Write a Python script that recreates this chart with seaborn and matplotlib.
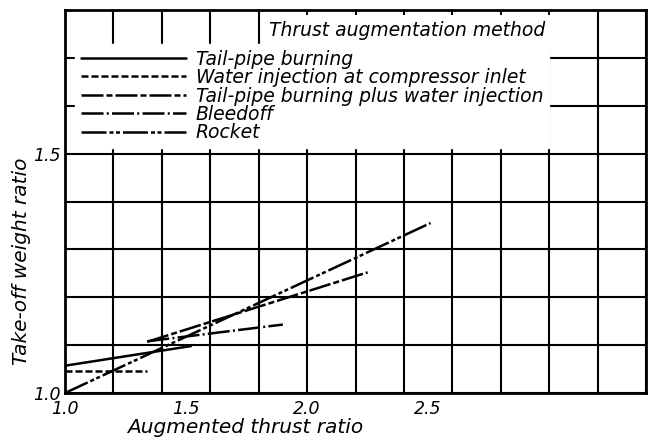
import pandas as pd
import numpy as np
import matplotlib
matplotlib.use("Agg")
import matplotlib.pyplot as plt
import seaborn as sns
from matplotlib.ticker import FixedLocator, MultipleLocator

# ==========================================
# DATA
# ==========================================
methods = ['Tail-pipe burning',
           'Water injection at compressor inlet',
           'Tail-pipe burning plus water injection',
           'Bleedoff',
           'Rocket']

x_tailpipe = [1.0, 1.52]
y_tailpipe = [1.057, 1.098]

x_water = [1.0, 1.34]
y_water = [1.046, 1.046]

x_tp_water = [1.34, 2.25]
y_tp_water = [1.107, 1.252]

x_bleed = [1.34, 1.90]
y_bleed = [1.108, 1.143]

x_rocket = [1.0, 2.51]
y_rocket = [1.0, 1.355]

x_ticks = [1.0, 1.5, 2.0, 2.5]
x_tick_labels = ['1.0', '1.5', '2.0', '2.5']
y_ticks = [1.0, 1.5]
y_tick_labels = ['1.0', '1.5']

# long table for seaborn
frames = []
for name, xs, ys in zip(methods,
                        [x_tailpipe, x_water, x_tp_water, x_bleed, x_rocket],
                        [y_tailpipe, y_water, y_tp_water, y_bleed, y_rocket]):
    frames.append(pd.DataFrame({'thrust': xs, 'weight': ys, 'method': name}))
df = pd.concat(frames, ignore_index=True)

# ==========================================
# STYLE
# ==========================================
sns.set_style("white")
plt.rcParams['font.family'] = ['DejaVu Sans']
plt.rcParams['font.style'] = 'italic'
plt.rcParams['text.color'] = 'black'

lw = 1.8
dash_styles = {
    'Tail-pipe burning': '',
    'Water injection at compressor inlet': (2.8, 1.2),
    'Tail-pipe burning plus water injection': (8.8, 1.2, 2.4, 1.2),
    'Bleedoff': (8.8, 1.3, 0.8, 1.3),
    'Rocket': (10, 1.2, 1.6, 1.0, 1.6, 1.2),
}

fig = plt.figure(figsize=(6.48, 4.40), dpi=100)
ax = fig.add_axes([65 / 648, 1 - 393 / 440, 581 / 648, 383 / 440])

sns.lineplot(data=df, x='thrust', y='weight', style='method',
             style_order=methods, dashes=dash_styles, color='black',
             linewidth=lw, estimator=None, sort=False, ax=ax)

ax.set_xlim(1.0, 3.4)
ax.set_ylim(1.0, 1.8)

# labelled ticks
ax.xaxis.set_major_locator(FixedLocator(x_ticks))
ax.set_xticklabels(x_tick_labels)
ax.yaxis.set_major_locator(FixedLocator(y_ticks))
ax.set_yticklabels(y_tick_labels)

# grid on minor ticks
ax.xaxis.set_minor_locator(MultipleLocator(0.2))
ax.yaxis.set_minor_locator(MultipleLocator(0.1))
ax.xaxis.remove_overlapping_locs = False
ax.yaxis.remove_overlapping_locs = False
ax.grid(False)
ax.grid(which='minor', color='black', linewidth=1.5)
ax.set_axisbelow(True)

ax.tick_params(axis='x', which='major', direction='in', length=6, width=1.2,
               pad=5, labelsize=12.5, colors='black')
ax.tick_params(axis='y', which='major', length=0, pad=3, labelsize=12.5,
               colors='black')
ax.tick_params(which='minor', length=0)

for s in ax.spines.values():
    s.set_color('black')
    s.set_linewidth(2)

ax.set_xlabel('Augmented thrust ratio', fontsize=14.5, color='black')
ax.set_ylabel('Take-off weight ratio', fontsize=14.5, color='black')
ax.xaxis.set_label_coords(0.31, -0.065)
ax.yaxis.set_label_coords(-0.058, 0.345)

# legend
old = ax.get_legend()
handles = list(old.legend_handles)
labels = [t.get_text() for t in old.get_texts()]
old.remove()
for h in handles:
    h.set_color('black')
    h.set_linewidth(lw)
leg = ax.legend(handles, labels, loc='upper left',
                bbox_to_anchor=(10 / 581, (393 - 44) / 383),
                borderaxespad=0, borderpad=0.3, frameon=True,
                facecolor='white', edgecolor='white', framealpha=1,
                fancybox=False, handlelength=5.6, handletextpad=0.55,
                labelspacing=-0.03, fontsize=13.5)
leg.set_zorder(5)
for t in leg.get_texts():
    t.set_color('black')

ax.text((407 - 65) / 581, (393 - 31) / 383, 'Thrust augmentation method',
        transform=ax.transAxes, ha='center', va='center', fontsize=13.5,
        color='black',
        bbox=dict(facecolor='white', edgecolor='none', pad=5), zorder=6)

plt.savefig('out.png', dpi=100)
